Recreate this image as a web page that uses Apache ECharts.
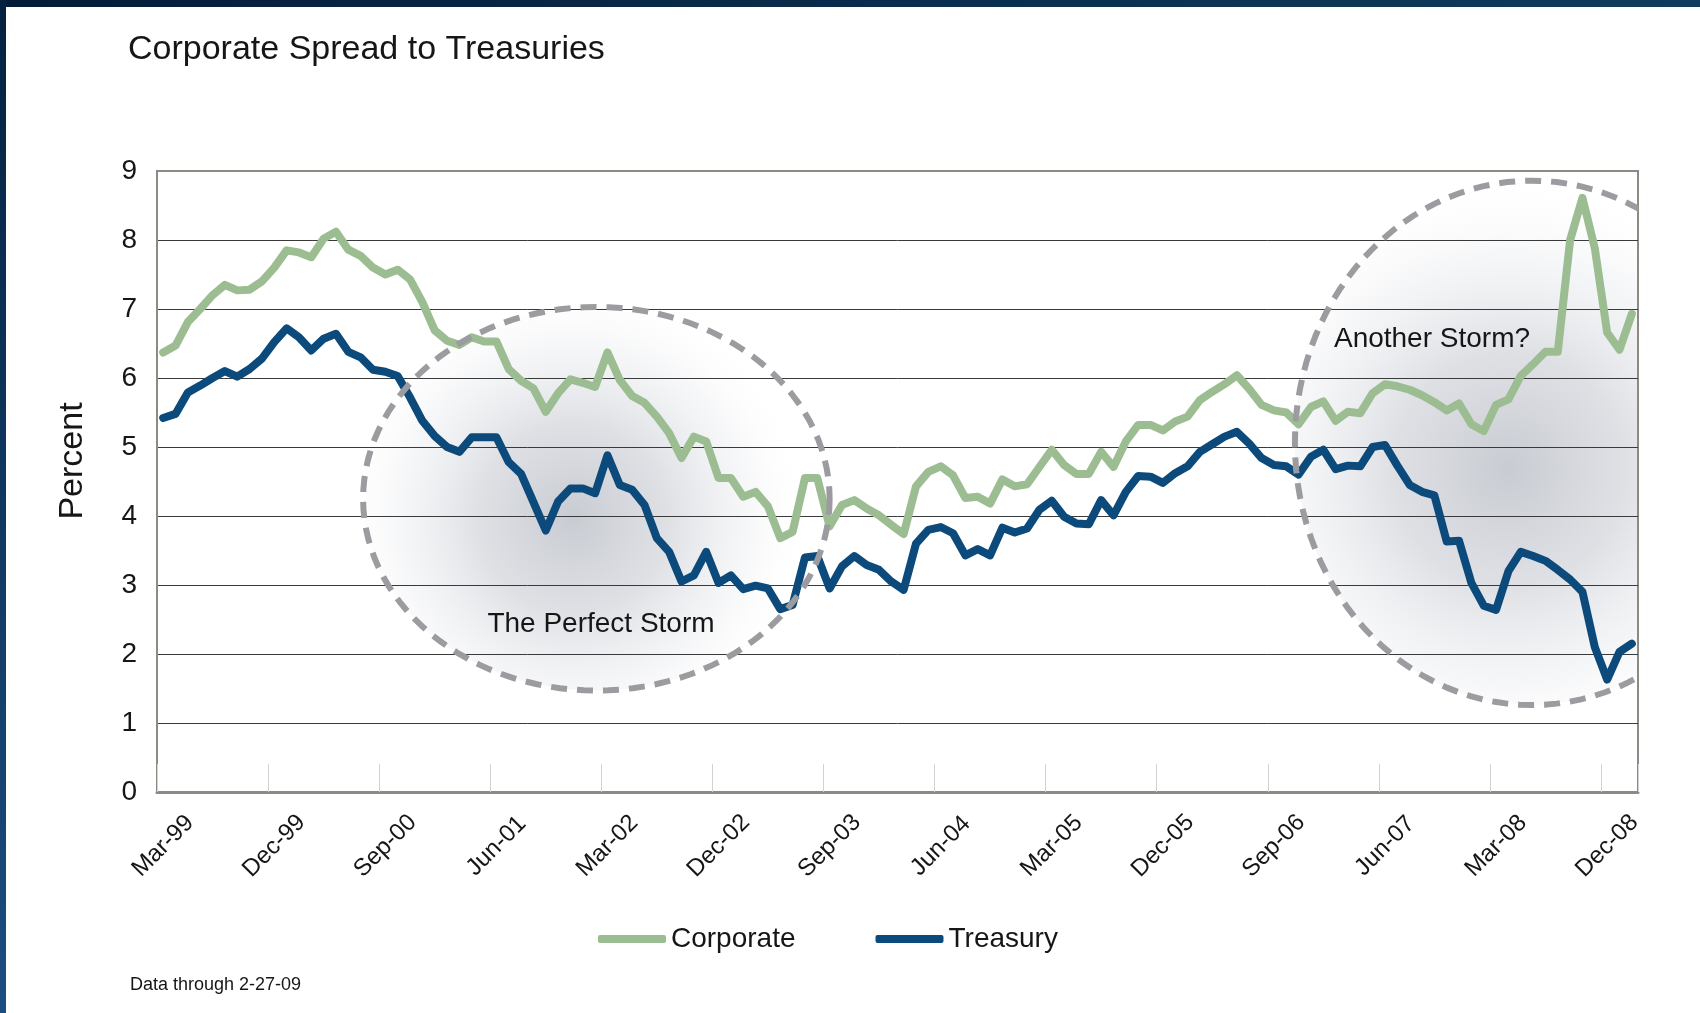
<!DOCTYPE html>
<html>
<head>
<meta charset="utf-8">
<title>Corporate Spread to Treasuries</title>
<script src="https://cdn.jsdelivr.net/npm/echarts@6/dist/echarts.min.js"></script>
<style>
  html, body { margin: 0; padding: 0; background: #ffffff; }
  #chart { width: 1700px; height: 1013px; }
</style>
</head>
<body>
<div id="chart"></div>
<script>
// Monthly yields (%), March 1999 through February 2009
const startYear = 1999;
const startMonth = 2; // March (0-based)
const monthNames = ['Jan', 'Feb', 'Mar', 'Apr', 'May', 'Jun', 'Jul', 'Aug', 'Sep', 'Oct', 'Nov', 'Dec'];

const corporate = [
  6.37, 6.47, 6.81, 7.00, 7.20, 7.35, 7.27, 7.28, 7.40, 7.60,
  7.85, 7.82, 7.75, 8.02, 8.12, 7.86, 7.77, 7.60, 7.50, 7.57,
  7.43, 7.10, 6.69, 6.54, 6.48, 6.59, 6.53, 6.53, 6.13, 5.96,
  5.85, 5.51, 5.78, 5.98, 5.93, 5.87, 6.37, 5.97, 5.74, 5.64,
  5.44, 5.20, 4.84, 5.15, 5.08, 4.55, 4.55, 4.28, 4.35, 4.14,
  3.68, 3.77, 4.55, 4.55, 3.85, 4.16, 4.23, 4.11, 4.01, 3.87,
  3.74, 4.43, 4.64, 4.72, 4.59, 4.26, 4.28, 4.18, 4.53, 4.43,
  4.46, 4.71, 4.96, 4.74, 4.61, 4.61, 4.93, 4.71, 5.08, 5.32,
  5.32, 5.24, 5.37, 5.44, 5.68, 5.80, 5.91, 6.04, 5.84, 5.61,
  5.53, 5.50, 5.33, 5.58, 5.66, 5.38, 5.51, 5.49, 5.78, 5.91,
  5.88, 5.83, 5.75, 5.65, 5.53, 5.63, 5.33, 5.23, 5.61, 5.69,
  6.03, 6.20, 6.38, 6.38, 8.00, 8.61, 7.88, 6.66, 6.41, 6.93
];

const treasury = [
  5.42, 5.48, 5.79, 5.89, 6.00, 6.10, 6.02, 6.13, 6.28, 6.52,
  6.72, 6.59, 6.40, 6.57, 6.64, 6.38, 6.30, 6.12, 6.09, 6.03,
  5.72, 5.38, 5.16, 5.00, 4.93, 5.14, 5.14, 5.14, 4.78, 4.61,
  4.20, 3.79, 4.21, 4.40, 4.40, 4.33, 4.88, 4.45, 4.38, 4.16,
  3.68, 3.48, 3.05, 3.14, 3.48, 3.03, 3.14, 2.94, 2.99, 2.95,
  2.65, 2.71, 3.40, 3.42, 2.95, 3.27, 3.42, 3.29, 3.22, 3.05,
  2.93, 3.60, 3.80, 3.84, 3.75, 3.43, 3.52, 3.43, 3.83, 3.76,
  3.82, 4.09, 4.22, 3.99, 3.89, 3.88, 4.23, 4.01, 4.35, 4.58,
  4.57, 4.48, 4.62, 4.72, 4.93, 5.04, 5.15, 5.22, 5.05, 4.84,
  4.74, 4.72, 4.60, 4.86, 4.96, 4.68, 4.73, 4.72, 5.00, 5.03,
  4.73, 4.45, 4.35, 4.30, 3.63, 3.64, 3.03, 2.70, 2.64, 3.20,
  3.48, 3.42, 3.35, 3.22, 3.08, 2.90, 2.10, 1.63, 2.03, 2.15
];

const yTicks = { min: 0, max: 9, step: 1 };

// Month labels such as "Mar-99"
const categories = corporate.map((_, i) => {
  const m = startMonth + i;
  const y = startYear + Math.floor(m / 12);
  return monthNames[m % 12] + '-' + String(y % 100).padStart(2, '0');
});

// Shaded "storm" zones, in axis units: centre (month index, percent), radii (months, percent)
const stormZones = [
  { cx: 35.1, cy: 4.25, rx: 18.9, ry: 2.78 },
  { cx: 110.9, cy: 5.06, rx: 19.2, ry: 3.8 }
];

const FONT = '"Liberation Sans", Arial, Helvetica, sans-serif';
const GREEN = '#9cbd91';
const BLUE = '#0c4a7b';

function ellipsePoints(api, zone) {
  const p0 = api.coord([0, 0]);
  const p1 = api.coord([1, 1]);
  const ux = p1[0] - p0[0];
  const uy = p0[1] - p1[1];
  const cx = p0[0] + zone.cx * ux;
  const cy = p0[1] - zone.cy * uy;
  const rx = zone.rx * ux;
  const ry = zone.ry * uy;
  const pts = [];
  const n = 120;
  for (let k = 0; k < n; k++) {
    const a = (k / n) * Math.PI * 2;
    pts.push([cx + rx * Math.cos(a), cy + ry * Math.sin(a)]);
  }
  return pts;
}

const chart = echarts.init(document.getElementById('chart'), null, { renderer: 'canvas' });

const splitColors = [];
for (let v = yTicks.min; v <= yTicks.max; v += yTicks.step) {
  splitColors.push(v === yTicks.min || v === yTicks.max ? 'rgba(0,0,0,0)' : '#3a3a3a');
}

chart.setOption({
  animation: false,
  backgroundColor: '#ffffff',
  textStyle: { fontFamily: FONT },
  title: {
    text: 'Corporate Spread to Treasuries',
    left: 123,
    top: 28,
    textStyle: { fontSize: 34, fontWeight: 'normal', color: '#161616', fontFamily: FONT }
  },
  legend: {
    data: ['Corporate', 'Treasury'],
    left: 593,
    top: 920,
    icon: 'roundRect',
    itemWidth: 68,
    itemHeight: 8,
    itemGap: 80,
    textStyle: { fontSize: 28, color: '#161616', fontFamily: FONT },
    selectedMode: false
  },
  grid: {
    left: 157,
    right: 62,
    top: 171,
    bottom: 221,
    show: true,
    borderColor: '#8e8983',
    borderWidth: 2,
    backgroundColor: 'rgba(0,0,0,0)'
  },
  xAxis: {
    type: 'category',
    data: categories,
    boundaryGap: true,
    axisLine: { lineStyle: { color: '#8e8983', width: 3 } },
    axisTick: { show: true, inside: true, length: 28, interval: 8, lineStyle: { color: '#d2d2d2', width: 1 } },
    axisLabel: {
      interval: 8,
      rotate: 45,
      align: 'center',
      verticalAlign: 'middle',
      margin: 54,
      fontSize: 24,
      color: '#161616',
      fontFamily: FONT
    },
    splitLine: { show: false }
  },
  yAxis: {
    type: 'value',
    min: yTicks.min,
    max: yTicks.max,
    interval: yTicks.step,
    axisLine: { show: true, lineStyle: { color: '#8e8983', width: 2 } },
    axisTick: { show: false },
    axisLabel: { fontSize: 28, color: '#161616', margin: 20, fontFamily: FONT },
    splitLine: { show: true, lineStyle: { color: splitColors, width: 1 } }
  },
  series: [
    {
      name: 'zoneShade',
      type: 'custom',
      z: -1,
      clip: true,
      silent: true,
      data: stormZones.map(s => [s.cx, s.cy]),
      renderItem: function (params, api) {
        const zone = stormZones[params.dataIndex];
        return {
          type: 'polygon',
          shape: { points: ellipsePoints(api, zone) },
          style: {
            fill: {
              type: 'radial', x: 0.45, y: 0.55, r: 0.62,
              colorStops: [
                { offset: 0, color: 'rgba(150,156,168,0.52)' },
                { offset: 0.4, color: 'rgba(165,170,182,0.36)' },
                { offset: 0.75, color: 'rgba(200,204,212,0.14)' },
                { offset: 1, color: 'rgba(255,255,255,0)' }
              ]
            },
            stroke: null
          }
        };
      }
    },
    {
      name: 'Corporate',
      type: 'line',
      data: corporate,
      showSymbol: false,
      symbol: 'none',
      z: 3,
      lineStyle: { color: GREEN, width: 8, cap: 'round', join: 'round' },
      itemStyle: { color: GREEN }
    },
    {
      name: 'Treasury',
      type: 'line',
      data: treasury,
      showSymbol: false,
      symbol: 'none',
      z: 4,
      lineStyle: { color: BLUE, width: 8, cap: 'round', join: 'round' },
      itemStyle: { color: BLUE }
    },
    {
      name: 'zoneOutline',
      type: 'custom',
      z: 6,
      clip: true,
      silent: true,
      data: stormZones.map(s => [s.cx, s.cy]),
      renderItem: function (params, api) {
        const zone = stormZones[params.dataIndex];
        return {
          type: 'polygon',
          shape: { points: ellipsePoints(api, zone) },
          style: {
            fill: null,
            stroke: '#9c9ca0',
            lineWidth: 6,
            lineDash: [16, 10]
          }
        };
      }
    }
  ],
  graphic: [
    {
      type: 'rect', left: 0, top: 0, z: 100,
      shape: { width: 1700, height: 7 },
      style: {
        fill: { type: 'linear', x: 0, y: 0, x2: 1, y2: 0,
          colorStops: [{ offset: 0, color: '#031c38' }, { offset: 1, color: '#0f3c5c' }] }
      }
    },
    {
      type: 'rect', left: 0, top: 0, z: 100,
      shape: { width: 6, height: 1013 },
      style: {
        fill: { type: 'linear', x: 0, y: 0, x2: 0, y2: 1,
          colorStops: [{ offset: 0, color: '#04213f' }, { offset: 1, color: '#1b4e80' }] }
      }
    },
    {
      type: 'text', x: 73, y: 461, z: 50, rotation: Math.PI / 2,
      style: { text: 'Percent', fontSize: 34, fontFamily: FONT, fill: '#161616', align: 'center', verticalAlign: 'middle' }
    },
    {
      type: 'text', x: 601, y: 624, z: 50,
      style: { text: 'The Perfect Storm', fontSize: 28, fontFamily: FONT, fill: '#161616', align: 'center', verticalAlign: 'middle' }
    },
    {
      type: 'text', x: 1432, y: 339, z: 50,
      style: { text: 'Another Storm?', fontSize: 28, fontFamily: FONT, fill: '#161616', align: 'center', verticalAlign: 'middle' }
    },
    {
      type: 'text', x: 130, y: 985, z: 50,
      style: { text: 'Data through 2-27-09', fontSize: 18, fontFamily: FONT, fill: '#161616', align: 'left', verticalAlign: 'middle' }
    }
  ]
});
</script>
</body>
</html>
